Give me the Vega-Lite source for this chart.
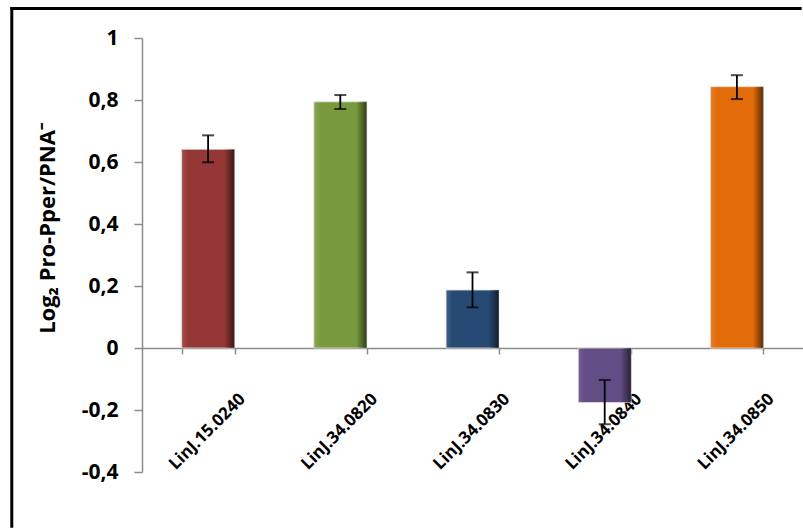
{
  "$schema": "https://vega.github.io/schema/vega-lite/v6.json",
  "autosize": "none",
  "width": 661,
  "height": 434,
  "padding": {"left": 142, "top": 38, "right": 0, "bottom": 57},
  "background": "white",
  "config": {
    "font": "Open Sans",
    "view": {"stroke": null},
    "axis": {"grid": false}
  },
  "data": {
    "values": [
      {"gene": "LinJ.15.0240", "value": 0.641, "lo": 0.599, "hi": 0.686},
      {"gene": "LinJ.34.0820", "value": 0.794, "lo": 0.771, "hi": 0.816},
      {"gene": "LinJ.34.0830", "value": 0.187, "lo": 0.131, "hi": 0.244},
      {"gene": "LinJ.34.0840", "value": -0.176, "lo": -0.246, "hi": -0.103},
      {"gene": "LinJ.34.0850", "value": 0.843, "lo": 0.803, "hi": 0.880}
    ]
  },
  "resolve": {"scale": {"x": "independent"}, "axis": {"x": "independent"}},
  "layer": [
    {
      "data": {"values": [{"frame": "border"}]},
      "layer": [
        {
          "mark": {"type": "rule", "color": "black", "strokeWidth": 3},
          "encoding": {
            "x": {"datum": -0.199, "type": "quantitative", "scale": {"domain": [0, 1], "nice": false, "zero": false}, "axis": null},
            "x2": {"datum": 0.998},
            "y": {"datum": 1.095, "type": "quantitative", "scale": {"domain": [-0.4, 1], "nice": false, "zero": false}}
          }
        },
        {
          "mark": {"type": "rule", "color": "black", "strokeWidth": 3},
          "encoding": {
            "x": {"datum": -0.197, "type": "quantitative", "axis": null},
            "y": {"datum": 1.1, "type": "quantitative"},
            "y2": {"datum": -0.58}
          }
        }
      ]
    },
    {
      "encoding": {
        "x": {
          "field": "gene",
          "type": "nominal",
          "sort": null,
          "scale": {"paddingInner": 0.6, "paddingOuter": 0.3},
          "axis": {
            "title": null,
            "offset": -124,
            "tickBand": "extent",
            "domainColor": "#8c8c8c",
            "domainWidth": 1.5,
            "tickColor": "#8c8c8c",
            "tickWidth": 1.5,
            "tickSize": 6,
            "labelAngle": -45,
            "labelAlign": "right",
            "labelBaseline": "middle",
            "labelOffset": 34,
            "labelPadding": 42,
            "labelFont": "Open Sans",
            "labelFontWeight": "bold",
            "labelFontSize": 17,
            "labelColor": "black"
          }
        }
      },
      "layer": [
        {
          "mark": {"type": "bar", "stroke": "#e6e0da", "strokeWidth": 0.8},
          "encoding": {
            "y": {
              "field": "value",
              "type": "quantitative",
              "scale": {"domain": [-0.4, 1], "nice": false, "zero": false},
              "axis": {
                "values": [-0.4, -0.2, 0, 0.2, 0.4, 0.6, 0.8, 1],
                "labelExpr": "replace(datum.value + '', '.', ',')",
                "title": "Log₂ Pro-Pper/PNA⁻",
                "titleFont": "Open Sans",
                "titleFontWeight": "bold",
                "titleFontSize": 22,
                "titleColor": "black",
                "titleX": -95,
                "titleY": 190,
                "titleAngle": -90,
                "titleAlign": "center",
                "titleBaseline": "middle",
                "domainColor": "#8c8c8c",
                "domainWidth": 1.5,
                "tickColor": "#8c8c8c",
                "tickWidth": 1.5,
                "tickSize": 8,
                "labelPadding": 16,
                "labelFont": "Open Sans",
                "labelFontWeight": "bold",
                "labelFontSize": 21,
                "labelColor": "black"
              }
            },
            "y2": {"datum": 0},
            "color": {
              "field": "gene",
              "type": "nominal",
              "sort": null,
              "scale": {"range": ["#953735", "#789a3d", "#274a74", "#634d85", "#e36c0a"]},
              "legend": null
            }
          }
        },
        {
          "mark": {
            "type": "bar",
            "fill": {
              "gradient": "linear",
              "x1": 0, "x2": 1, "y1": 0, "y2": 0,
              "stops": [
                {"offset": 0, "color": "rgba(255,255,255,0.12)"},
                {"offset": 0.12, "color": "rgba(255,255,255,0.0)"},
                {"offset": 0.8, "color": "rgba(0,0,0,0.0)"},
                {"offset": 0.92, "color": "rgba(0,0,0,0.35)"},
                {"offset": 1, "color": "rgba(0,0,0,0.6)"}
              ]
            }
          },
          "encoding": {
            "y": {"field": "value", "type": "quantitative"},
            "y2": {"datum": 0}
          }
        },
        {
          "mark": {"type": "rule", "color": "black", "strokeWidth": 1.8},
          "encoding": {
            "y": {"field": "lo", "type": "quantitative"},
            "y2": {"field": "hi"}
          }
        },
        {
          "mark": {"type": "tick", "color": "black", "size": 12, "thickness": 2},
          "encoding": {
            "y": {"field": "lo", "type": "quantitative"}
          }
        },
        {
          "mark": {"type": "tick", "color": "black", "size": 12, "thickness": 2},
          "encoding": {
            "y": {"field": "hi", "type": "quantitative"}
          }
        }
      ]
    }
  ]
}
